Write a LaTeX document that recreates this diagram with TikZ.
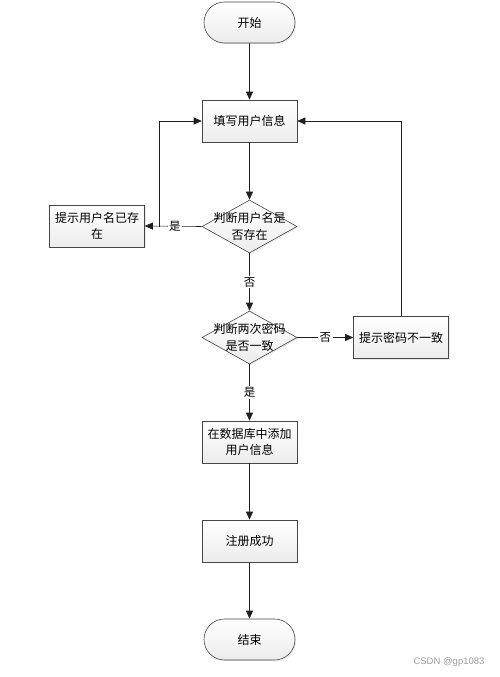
\documentclass[tikz,border=0pt]{standalone}
\usepackage{fontspec}
\setmainfont{Noto Sans CJK SC}
\newfontfamily\markfont{Liberation Sans}
\usetikzlibrary{shapes.geometric, shapes.misc, arrows.meta, shadows}
\tikzset{
  flowbox/.style={draw=gray!55!black, line width=0.6pt, top color=white, bottom color=gray!15,
    drop shadow={opacity=0.18, shadow xshift=1.2pt, shadow yshift=-1.2pt},
    minimum width=95pt, minimum height=42pt, inner sep=2pt, align=center,
    font=\fontsize{12}{16.5}\selectfont}
}
\tikzset{
  termbox/.style={flowbox, rounded rectangle, minimum height=41pt},
  decision/.style={flowbox, diamond, minimum width=95pt, minimum height=53pt, inner sep=0pt},
  decisiontext/.style={align=center, inner sep=0pt, font=\fontsize{12}{16.5}\selectfont},
  flowline/.style={draw=gray!25!black, line width=0.6pt},
  flowarrow/.style={flowline, -{Triangle[length=8pt,width=7pt]}},
  edgetext/.style={fill=white, inner sep=1.5pt, font=\fontsize{11.5}{13}\selectfont}
}

\begin{document}
\begin{tikzpicture}[x=1pt, y=-1pt]
      \useasboundingbox (0,0) rectangle (500,677);
      \node[termbox] (start) at (249.5,22.5) {开始};
      \node[flowbox] (fillin) at (249.5,121) {填写用户信息};
      \node[decision] (chkname) at (249.5,226.5) {};
      \node[decisiontext] at (chkname) {判断用户名是\\否存在};
      \node[flowbox] (nameexist) at (97,226) {提示用户名已存\\在};
      \node[decision] (chkpwd) at (249.5,337.5) {};
      \node[decisiontext] at (chkpwd) {判断两次密码\\是否一致};
      \node[flowbox] (pwdbad) at (401,337.5) {提示密码不一致};
      \node[flowbox] (adduser) at (249.5,442) {在数据库中添加\\用户信息};
      \node[flowbox] (success) at (249.5,541) {注册成功};
      \node[termbox] (stop) at (249.5,639.5) {结束};
      \node[font=\markfont\fontsize{9.5}{11}\selectfont, text=gray!75] (mark) at (449,662) {CSDN @gp1083};
      % main path
      \draw[flowarrow] (start) -- (fillin);
      \draw[flowarrow] (fillin) -- (chkname);
      \draw[flowarrow] (chkname) -- node[edgetext] {否} (chkpwd);
      \draw[flowarrow] (chkpwd) -- node[edgetext] {是} (adduser);
      \draw[flowarrow] (adduser) -- (success);
      \draw[flowarrow] (success) -- (stop);
      % name taken: back to the form
      \draw[flowarrow] (chkname.west) -- node[edgetext, pos=0.47] {是} (nameexist.east);
      \coordinate (backleft) at (159,226.5);
      \draw[flowarrow] (backleft) |- (fillin.west);
      % passwords differ: back to the form
      \draw[flowarrow] (chkpwd.east) -- node[edgetext] {否} (pwdbad.west);
      \draw[flowarrow] (pwdbad.north) |- (fillin.east);
\end{tikzpicture}
\end{document}
